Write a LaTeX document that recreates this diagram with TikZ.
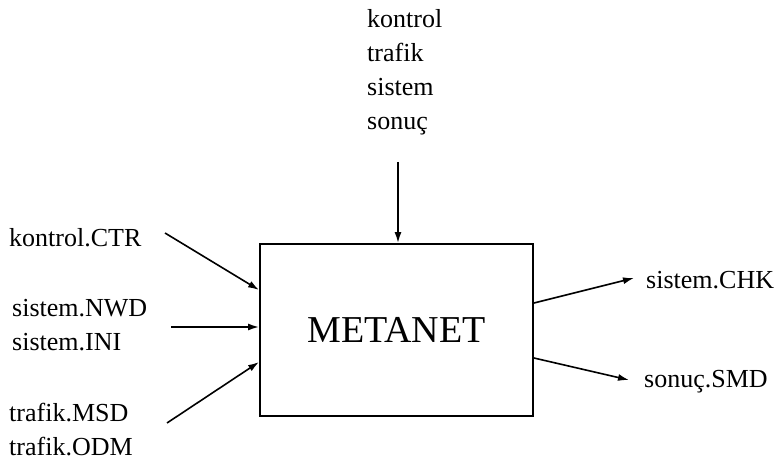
\documentclass[tikz,border=0pt]{standalone}
\usepackage{fontspec}
\setmainfont{Liberation Serif}
\usetikzlibrary{positioning,arrows.meta}

\tikzset{
  lbl/.style={anchor=west, inner sep=0pt, align=left,
    font=\fontsize{26}{34}\selectfont},
  arr/.style={line width=1.6pt, -{Latex[length=11pt,width=7pt]}},
  mbox/.style={draw, line width=1.9pt, minimum width=273pt, minimum height=172pt,
    inner sep=0pt, font=\fontsize{38}{40}\selectfont}
}

\begin{document}
\begin{tikzpicture}[x=1pt, y=-1pt]
    \useasboundingbox (0,0) rectangle (774,465);

    % main block
    \node[mbox] (metanet) at (396.5,330) {METANET};

    % inputs on the left
    \node[lbl] (ctr) at (9,238) {kontrol.CTR};
    \node[lbl] (nwd) at (12,325) {sistem.NWD\\sistem.INI};
    \node[lbl] (msd) at (9,430) {trafik.MSD\\trafik.ODM};

    % parameter files on top
    \node[lbl] (top) at (367,72) {kontrol\\trafik\\sistem\\sonuç};

    % outputs on the right
    \node[lbl] (chk) at (646,280) {sistem.CHK};
    \node[lbl] (smd) at (644,382) {sonuç.SMD};

    % arrow tails
    \coordinate (ctrtail) at (165,233);
    \coordinate (nwdtail) at (171,327);
    \coordinate (msdtail) at (167,423);
    \coordinate (toptail) at (398,162);
    \coordinate (chkhead) at (634,278);
    \coordinate (smdhead) at (629,380);

    \draw[arr] (ctrtail) -- ([yshift=40pt]metanet.west);
    \draw[arr] (nwdtail) -- ([yshift=3pt]metanet.west);
    \draw[arr] (msdtail) -- ([yshift=-32pt]metanet.west);
    \draw[arr] (toptail) -- (metanet.north -| toptail);
    \draw[arr] ([yshift=27pt]metanet.east) -- (chkhead);
    \draw[arr] ([yshift=-28pt]metanet.east) -- (smdhead);
  \end{tikzpicture}
\end{document}
